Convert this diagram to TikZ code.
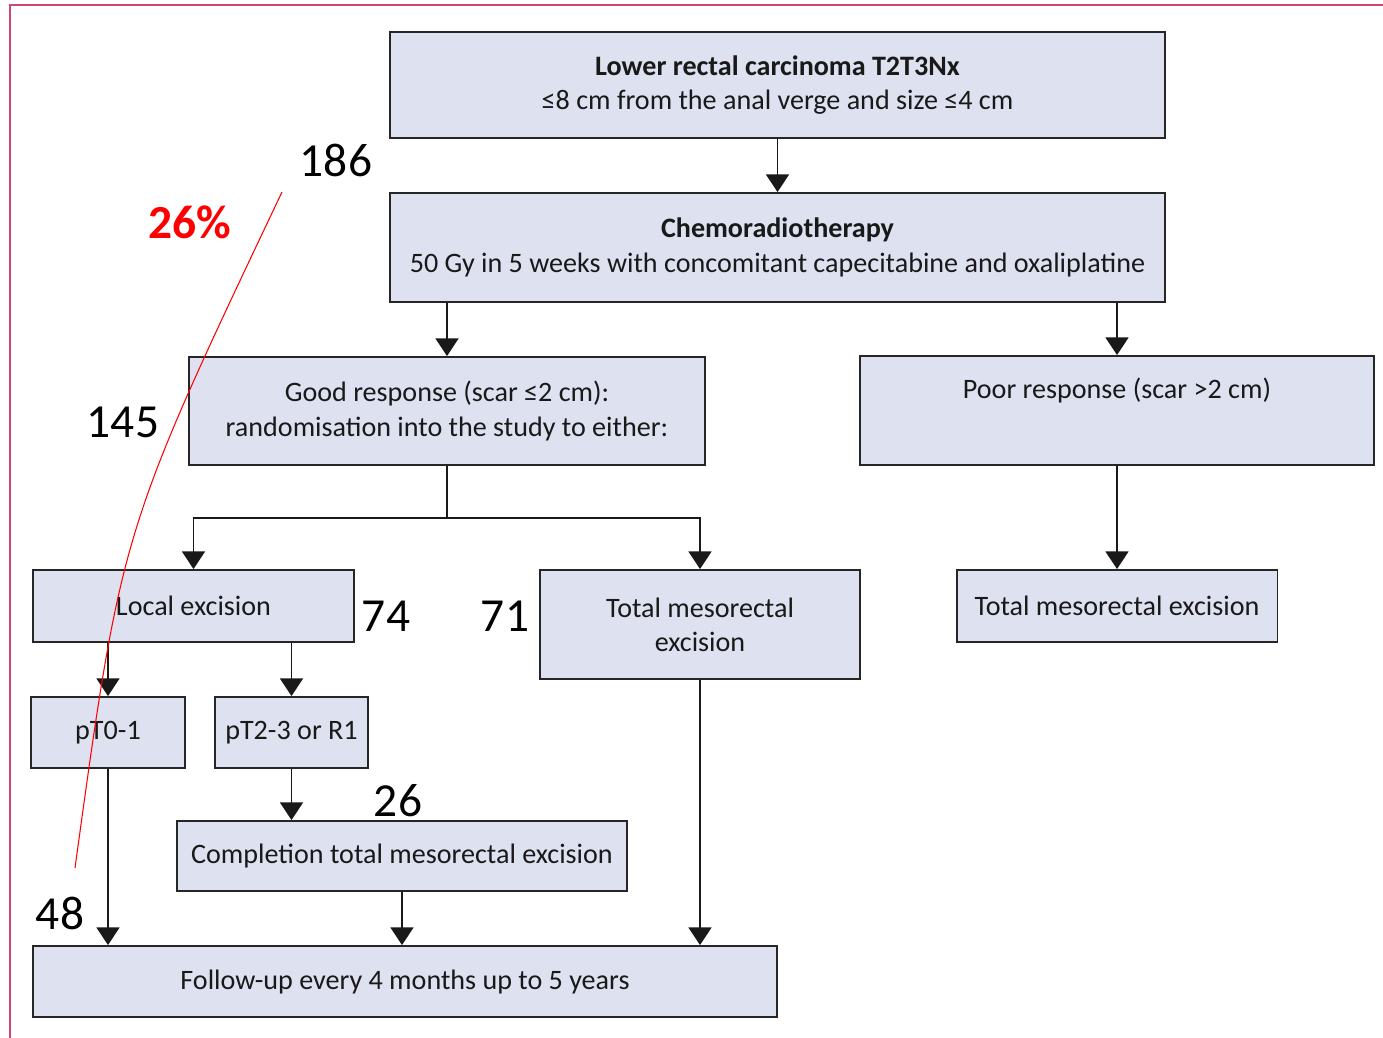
\documentclass[tikz,border=0pt]{standalone}
\usepackage{fontspec}
\setmainfont{Carlito}
\newfontfamily\boxfont{Carlito}
\usepackage{xcolor}
\usetikzlibrary{arrows.meta,calc}
\definecolor{boxfill}{RGB}{221,225,240}
\definecolor{framepink}{RGB}{204,72,112}

\begin{document}
\begin{tikzpicture}[x=0.02cm,y=-0.02cm,
    box/.style={draw=black!85,line width=1.1pt,fill=boxfill,align=center,inner sep=0pt,
                font=\boxfont\fontsize{16}{19.5}\selectfont,text=black!90},
    num/.style={font=\fontsize{27}{30}\selectfont},
    arr/.style={line width=1.1pt,draw=black!90,-{Triangle[length=10pt,width=13pt]}}]

            \useasboundingbox (0,0) rectangle (1383,1038);

            % Frame along the left and top edge
            \draw[framepink,line width=1.2pt] (10,1038) -- (10,5) -- (1383,5);

            % Boxes
            \node[box,minimum width=15.5cm,minimum height=2.12cm] (top) at (777.5,85)
                {\textbf{Lower rectal carcinoma T2T3Nx}\\≤8 cm from the anal verge and size ≤4 cm};
            \node[box,minimum width=15.5cm,minimum height=2.18cm] (chemo) at (777.5,247.5)
                {\textbf{Chemoradiotherapy}\\50 Gy in 5 weeks with concomitant capecitabine and oxaliplatine};
            \node[box,minimum width=10.32cm,minimum height=2.16cm] (good) at (447,411)
                {Good response (scar ≤2 cm):\\randomisation into the study to either:};
            \node[box,minimum width=10.28cm,minimum height=2.18cm] (poor) at (1117,410.5)
                {Poor response (scar >2 cm)\\\strut};
            \node[box,minimum width=6.42cm,minimum height=1.44cm] (local) at (193.5,606)
                {Local excision};
            \node[box,minimum width=6.4cm,minimum height=2.18cm] (tmemid) at (700,624.5)
                {Total mesorectal\\excision};
            \node[box,minimum width=6.42cm,minimum height=1.44cm] (tmeright) at (1117,606)
                {Total mesorectal excision};
            \node[box,minimum width=3.08cm,minimum height=1.42cm] (pt01) at (108,732.5)
                {pT0-1};
            \node[box,minimum width=3.06cm,minimum height=1.42cm] (pt23) at (291.5,732.5)
                {pT2-3 or R1};
            \node[box,minimum width=9cm,minimum height=1.4cm] (compl) at (402,856)
                {Completion total mesorectal excision};
            \node[box,minimum width=14.88cm,minimum height=1.42cm] (follow) at (405,981.5)
                {Follow-up every 4 months up to 5 years};

            % Arrows
            \coordinate (split) at (447,518);
            \draw[arr] (top) -- (chemo);
            \draw[arr] (chemo.south -| good.north) -- (good.north);
            \draw[arr] (chemo.south -| poor.north) -- (poor.north);
            \draw[line width=1.1pt,draw=black!90] (good.south) -- (split);
            \draw[arr] (split) -| (local.north);
            \draw[arr] (split) -| (tmemid.north);
            \draw[arr] (poor.south) -- (poor.south |- tmeright.north);
            \draw[arr] (local.south -| pt01.north) -- (pt01.north);
            \draw[arr] (local.south -| pt23.north) -- (pt23.north);
            \draw[arr] (pt23.south) -- (pt23.south |- compl.north);
            \draw[arr] (pt01.south) -- (pt01.south |- follow.north);
            \draw[arr] (compl.south) -- (compl.south |- follow.north);
            \draw[arr] (tmemid.south) -- (tmemid.south |- follow.north);

            % Patient numbers
            \node[num] (n186) at (336,160) {186};
            \node[num] (n145) at (123,422) {145};
            \node[num] (n74) at (386,616) {74};
            \node[num] (n71) at (505,616) {71};
            \node[num] (n26) at (398,801) {26};
            \node[num] (n48) at (60,913) {48};
            \node[num,font=\fontsize{27}{30}\selectfont\bfseries,text=red] (pct) at (190,222) {26\%};

            % Red stroke
            \coordinate (rtop) at (282,192);
            \coordinate (rbot) at (75,868);
            \draw[red,line width=0.6pt] (rtop) .. controls (121.5,530) .. (rbot);

\end{tikzpicture}
\end{document}
